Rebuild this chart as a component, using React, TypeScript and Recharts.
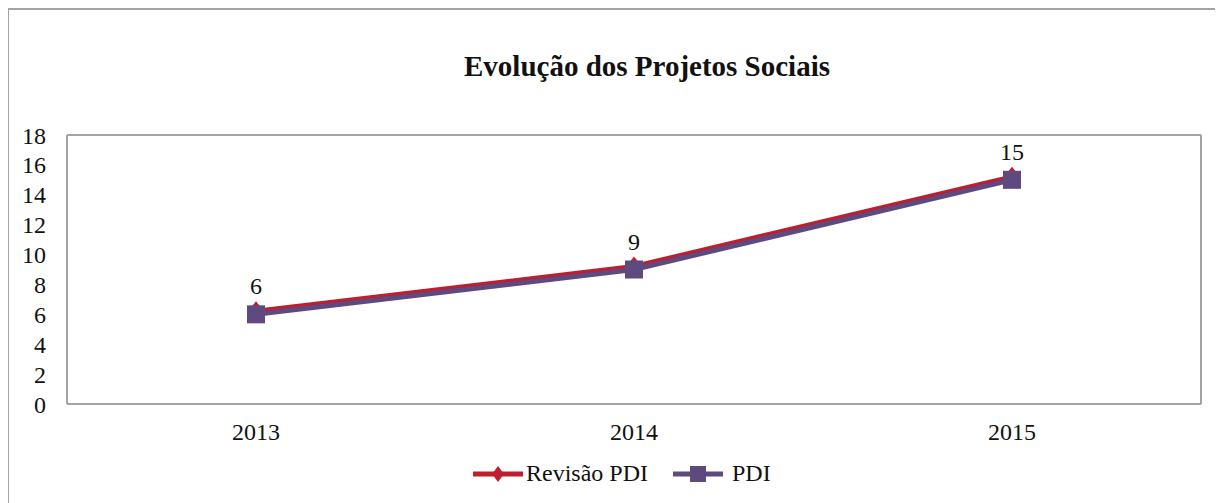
import { LineChart, Line, XAxis, YAxis, LabelList } from "recharts"

const years = ["2013", "2014", "2015"]
const revisaoPdi = [6.2, 9.2, 15.2]
const pdi = [6, 9, 15]
const yTicks = [0, 2, 4, 6, 8, 10, 12, 14, 16, 18]

const data = years.map((year, i) => ({ year, revisao: revisaoPdi[i], pdi: pdi[i] }))

const RED = "#be1e2d"
const PURPLE = "#5e4a7e"
const BORDER = "#a3a3a3"
const FONT = "Liberation Serif"

const DiamondDot = (props: any) => {
  const { cx, cy } = props
  if (cx == null || cy == null) return null
  return (
    <polygon
      points={`${cx},${cy - 10} ${cx + 8},${cy} ${cx},${cy + 10} ${cx - 8},${cy}`}
      fill={RED}
    />
  )
}

const SquareDot = (props: any) => {
  const { cx, cy } = props
  if (cx == null || cy == null) return null
  return <rect x={cx - 9} y={cy - 9} width={18} height={18} fill={PURPLE} />
}

export default function App() {
  const tickStyle = { fontSize: 24, fill: "#111", fontFamily: FONT }
  return (
    <div style={{ position: "relative", width: 1215, height: 495, fontFamily: FONT }}>
      {/* outer frame: only left and top edges fall inside the window */}
      <div style={{ position: "absolute", left: -2, top: 0, width: 3, height: 495, background: BORDER }} />
      <div style={{ position: "absolute", left: -2, top: 0, width: 1217, height: 2, background: BORDER }} />
      <div
        style={{
          position: "absolute",
          left: 639,
          top: 42,
          transform: "translateX(-50%)",
          whiteSpace: "nowrap",
          fontSize: 29,
          fontWeight: "bold",
          color: "#111",
        }}
      >
        Evolução dos Projetos Sociais
      </div>
      <div style={{ position: "absolute", left: 0, top: 0 }}>
        <LineChart
          width={1215}
          height={495}
          data={data}
          margin={{ top: 126, right: 21, bottom: 59, left: 0 }}
        >
          <XAxis
            dataKey="year"
            padding={{ left: 189, right: 189 }}
            axisLine={{ stroke: BORDER, strokeWidth: 2 }}
            tickLine={false}
            tick={tickStyle}
            tickMargin={13}
            height={40}
          />
          <XAxis
            xAxisId="top"
            orientation="top"
            dataKey="year"
            padding={{ left: 189, right: 189 }}
            axisLine={{ stroke: BORDER, strokeWidth: 2 }}
            tickLine={false}
            tick={false}
            height={1}
          />
          <YAxis
            domain={[0, 18]}
            ticks={yTicks}
            interval={0}
            width={59}
            axisLine={{ stroke: BORDER, strokeWidth: 2 }}
            tickLine={false}
            tick={tickStyle}
            tickMargin={15}
          />
          <YAxis
            yAxisId="right"
            orientation="right"
            domain={[0, 18]}
            width={1}
            axisLine={{ stroke: BORDER, strokeWidth: 2 }}
            tickLine={false}
            tick={false}
          />
          <Line
            dataKey="revisao"
            name="Revisão PDI"
            stroke={RED}
            strokeWidth={5}
            dot={<DiamondDot />}
            activeDot={false}
            isAnimationActive={false}
          />
          <Line
            dataKey="pdi"
            name="PDI"
            stroke={PURPLE}
            strokeWidth={5}
            dot={<SquareDot />}
            activeDot={false}
            isAnimationActive={false}
          >
            <LabelList
              dataKey="pdi"
              position="top"
              offset={20}
              style={{ fontSize: 24, fill: "#111", fontFamily: FONT }}
            />
          </Line>
        </LineChart>
      </div>
      <div
        style={{
          position: "absolute",
          left: 465,
          top: 452,
          display: "flex",
          alignItems: "center",
          fontSize: 24,
          color: "#111",
          whiteSpace: "nowrap",
        }}
      >
        <svg width={50} height={24} style={{ display: "block" }}>
          <line x1={0} y1={12} x2={50} y2={12} stroke={RED} strokeWidth={5} />
          <polygon points="25,4 31,12 25,20 19,12" fill={RED} />
        </svg>
        <span style={{ marginLeft: 3 }}>Revisão PDI</span>
        <svg width={50} height={24} style={{ display: "block", marginLeft: 25 }}>
          <line x1={0} y1={12} x2={50} y2={12} stroke={PURPLE} strokeWidth={5} />
          <rect x={17} y={4} width={16} height={16} fill={PURPLE} />
        </svg>
        <span style={{ marginLeft: 9 }}>PDI</span>
      </div>
    </div>
  )
}
